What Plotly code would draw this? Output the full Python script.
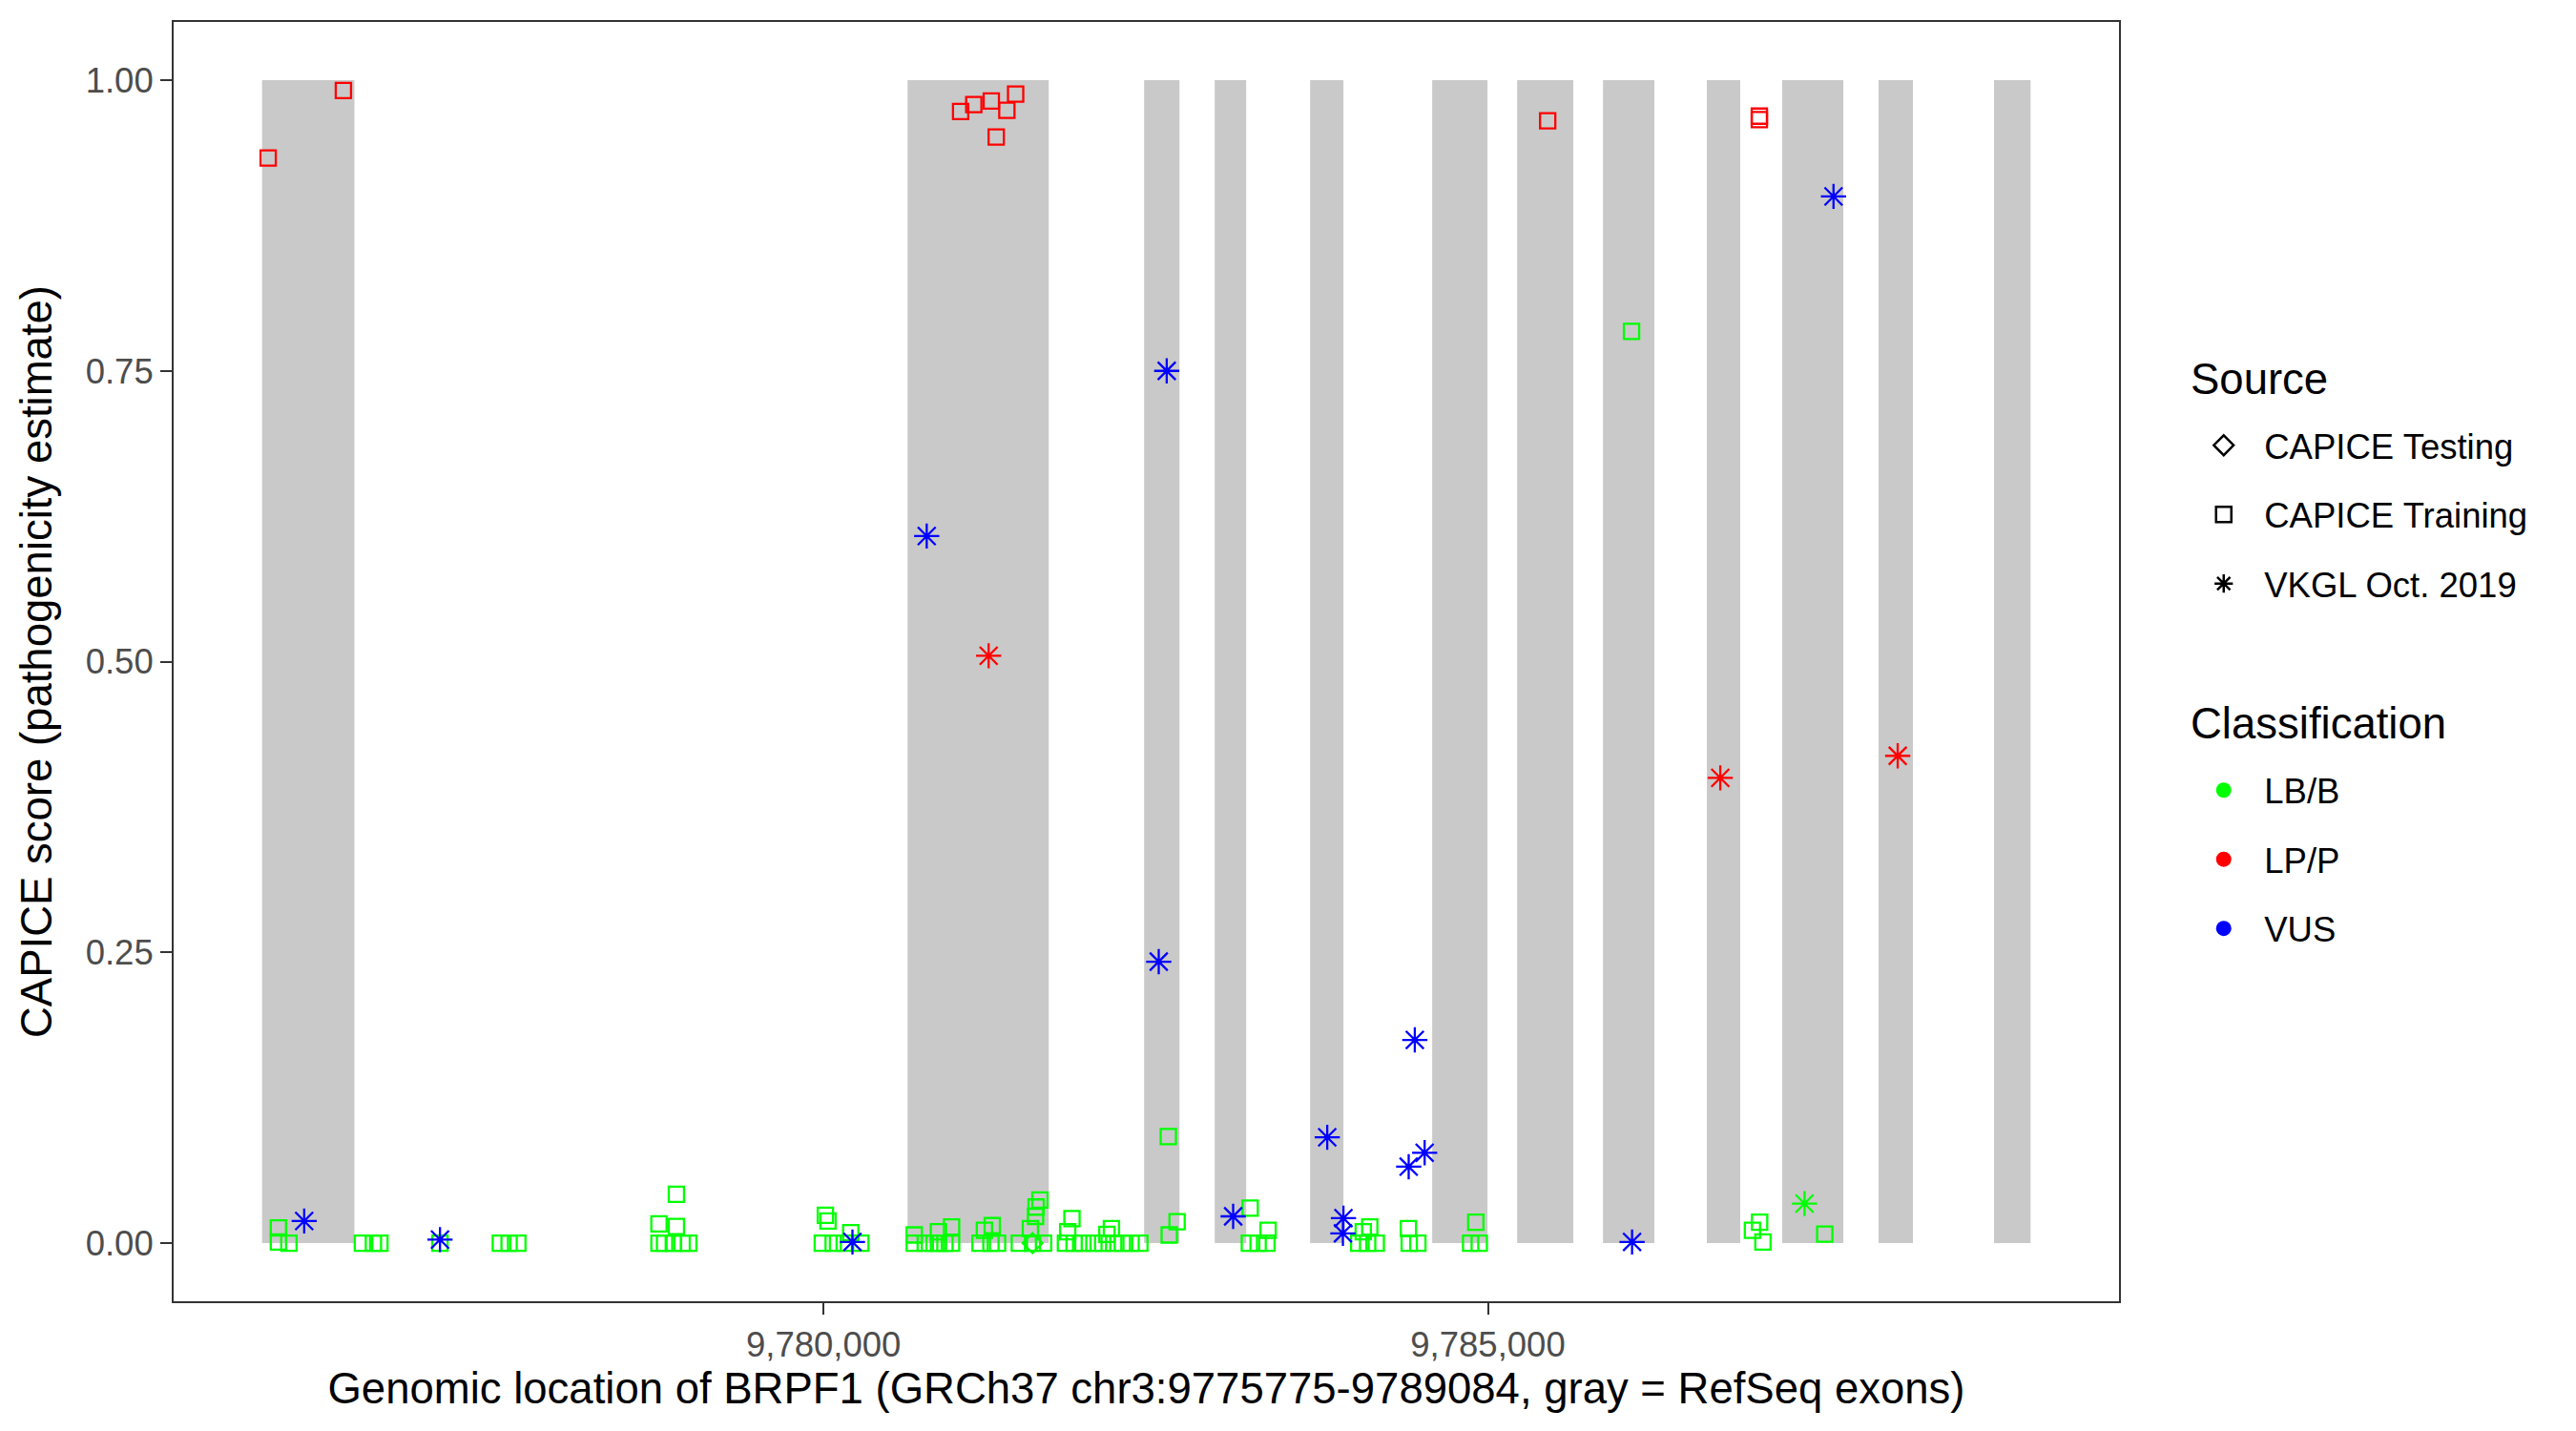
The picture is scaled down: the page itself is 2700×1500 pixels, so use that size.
import plotly.graph_objects as go

# ---------------- data ----------------
exon_start = [9775775, 9780633, 9782413, 9782944, 9783662, 9784581, 9785220, 9785866, 9786648, 9787215, 9787940, 9788809]
exon_end   = [9776470, 9781695, 9782679, 9783181, 9783913, 9784997, 9785643, 9786253, 9786899, 9787675, 9788199, 9789084]

# CAPICE Training, LP/P
train_lpp_pos   = [9775821, 9776387, 9781032, 9781131, 9781263, 9781446, 9781380, 9781300, 9785450, 9787043, 9787043]
train_lpp_score = [0.933, 0.991, 0.973, 0.979, 0.982, 0.988, 0.974, 0.951, 0.965, 0.966, 0.969]

# CAPICE Training, LB/B
train_lbb_pos = [9775898, 9775898, 9775977, 9776530, 9776613, 9776662, 9777114, 9777568, 9777634, 9777700,
                 9778893, 9778762, 9778893, 9778762, 9778804, 9778870, 9778936, 9778986,
                 9780014, 9780034, 9780205, 9779991, 9780073, 9780156, 9780281,
                 9780683, 9780683, 9780766, 9780832, 9780865, 9780865, 9780914, 9780964, 9780964,
                 9781178, 9781211, 9781270, 9781260, 9781310,
                 9781474, 9781557, 9781596, 9781600, 9781629, 9781573, 9781656,
                 9781870, 9781838, 9781821, 9781886, 9781952,
                 9782035, 9782101, 9782133, 9782167, 9782184, 9782249, 9782315, 9782381,
                 9782595, 9782661, 9782602,
                 9783211, 9783346, 9783205, 9783271, 9783337,
                 9784111, 9784062, 9784028, 9784095, 9784160,
                 9784402, 9784408, 9784473,
                 9784909, 9784870, 9784935,
                 9786081,
                 9787045, 9786991, 9787070, 9787535]
train_lbb_score = [0.013, 0.001, 0.0, 0.0, 0.0, 0.0, 0.0, 0.0, 0.0, 0.0,
                   0.042, 0.0166, 0.0143, 0.0, 0.0, 0.0, 0.0, 0.0,
                   0.024, 0.019, 0.009, 0.0, 0.0, 0.0, 0.0,
                   0.007, 0.0, 0.0, 0.0, 0.0097, 0.0, 0.0, 0.0138, 0.0,
                   0.0, 0.011, 0.015, 0.0, 0.0,
                   0.0, 0.0124, 0.023, 0.031, 0.037, 0.0, 0.0,
                   0.021, 0.0097, 0.0, 0.0, 0.0,
                   0.0, 0.0, 0.0075, 0.0124, 0.0, 0.0, 0.0, 0.0,
                   0.0916, 0.0184, 0.007,
                   0.030, 0.011, 0.0, 0.0, 0.0,
                   0.0138, 0.0097, 0.0, 0.0, 0.0,
                   0.0124, 0.0, 0.0,
                   0.018, 0.0, 0.0,
                   0.784,
                   0.018, 0.011, 0.001, 0.0078]

# CAPICE Testing, LB/B
test_lbb_pos   = [9781573]
test_lbb_score = [0.0]

# VKGL Oct. 2019
vkgl_lpp_pos   = [9781243, 9786749, 9788084]
vkgl_lpp_score = [0.505, 0.400, 0.419]

vkgl_vus_pos   = [9776092, 9777114, 9780218, 9780777, 9782583, 9782523, 9783083, 9783791, 9783913,
                  9783909, 9784404, 9784524, 9784450, 9786085, 9787601]
vkgl_vus_score = [0.019, 0.003, 0.001, 0.608, 0.750, 0.242, 0.023, 0.091, 0.0215,
                  0.0084, 0.0657, 0.0777, 0.1747, 0.001, 0.900]

vkgl_lbb_pos   = [9787383]
vkgl_lbb_score = [0.034]

source_labels = ["CAPICE Testing", "CAPICE Training", "VKGL Oct. 2019"]
class_labels = ["LB/B", "LP/P", "VUS"]
x_tickvals = [9780000, 9785000]

# ---------------- style ----------------
GREEN, RED, BLUE = "#00FF00", "#FF0000", "#0000FF"
EXON = "#C9C9C9"
FONT = "Liberation Sans, Arial, Helvetica, sans-serif"
TICK_FS = 36.5
TITLE_FS = 45.5
SQ = 16
AST = 22
LW = 2.3

fig = go.Figure()

for s, e in zip(exon_start, exon_end):
    fig.add_shape(type="rect", xref="x", yref="y", x0=s, x1=e, y0=0, y1=1,
                  fillcolor=EXON, line=dict(width=0), layer="below")

def pts(x, y, symbol, color, size):
    fig.add_trace(go.Scatter(x=x, y=y, mode="markers", showlegend=False, hoverinfo="x+y",
                             marker=dict(symbol=symbol, size=size, color=color,
                                         line=dict(color=color, width=LW))))

pts(train_lbb_pos, train_lbb_score, "square-open", GREEN, SQ)
pts(test_lbb_pos, test_lbb_score, "diamond-open", GREEN, SQ)
pts(train_lpp_pos, train_lpp_score, "square-open", RED, SQ)
pts(vkgl_vus_pos, vkgl_vus_score, "asterisk-open", BLUE, AST)
pts(vkgl_lpp_pos, vkgl_lpp_score, "asterisk-open", RED, AST)
pts(vkgl_lbb_pos, vkgl_lbb_score, "asterisk-open", GREEN, AST)

# legend entries
for i, (lab, sym) in enumerate(zip(source_labels, ["diamond-open", "square-open", "asterisk-open"])):
    fig.add_trace(go.Scatter(x=[None], y=[None], mode="markers", name=lab, legend="legend",
                             legendgroup="s%d" % i,
                             marker=dict(symbol=sym, size=16, color="black",
                                         line=dict(color="black", width=2.5))))
for i, (lab, col) in enumerate(zip(class_labels, [GREEN, RED, BLUE])):
    fig.add_trace(go.Scatter(x=[None], y=[None], mode="markers", name=lab, legend="legend2",
                             legendgroup="c%d" % i,
                             marker=dict(symbol="circle", size=16, color=col, line=dict(width=0))))

pad = 0.05 * (exon_end[-1] - exon_start[0])
axis_common = dict(showline=True, linecolor="#333333", linewidth=2, mirror=True,
                   showgrid=False, zeroline=False, ticks="outside", ticklen=12,
                   tickwidth=2, tickcolor="#333333",
                   tickfont=dict(family=FONT, size=TICK_FS, color="#4D4D4D"))

legend_common = dict(font=dict(family=FONT, size=TICK_FS, color="black"),
                     xref="container", yref="container", x=0.8475,
                     xanchor="left", yanchor="top", itemwidth=75, tracegroupgap=22,
                     bgcolor="rgba(0,0,0,0)")

fig.update_layout(
    width=2700, height=1500, autosize=False,
    paper_bgcolor="white", plot_bgcolor="white",
    margin=dict(l=182, r=479, t=23, b=136),
    font=dict(family=FONT, color="black"),
    xaxis=dict(range=[exon_start[0] - pad, exon_end[-1] + pad], tickvals=x_tickvals,
               tickformat=",d",
               title=dict(text="Genomic location of BRPF1 (GRCh37 chr3:9775775-9789084, gray = RefSeq exons)",
                          font=dict(family=FONT, size=TITLE_FS, color="black"), standoff=2),
               **axis_common),
    yaxis=dict(range=[-0.05, 1.05], tickvals=[0, 0.25, 0.5, 0.75, 1.0], tickformat=".2f",
               title=dict(text="CAPICE score (pathogenicity estimate)",
                          font=dict(family=FONT, size=TITLE_FS, color="black"), standoff=21),
               **axis_common),
    legend=dict(y=0.709, **legend_common),
    legend2=dict(y=0.468, **legend_common),
    annotations=[
        dict(text="Source", xref="paper", yref="paper", x=1.0358, y=0.7204,
             xanchor="left", yanchor="middle", showarrow=False,
             font=dict(family=FONT, size=TITLE_FS, color="black")),
        dict(text="Classification", xref="paper", yref="paper", x=1.0358, y=0.4512,
             xanchor="left", yanchor="middle", showarrow=False,
             font=dict(family=FONT, size=TITLE_FS, color="black")),
    ],
)

fig.write_html("out.html", config={"displayModeBar": False},
               post_script="document.body.style.margin='0';")
